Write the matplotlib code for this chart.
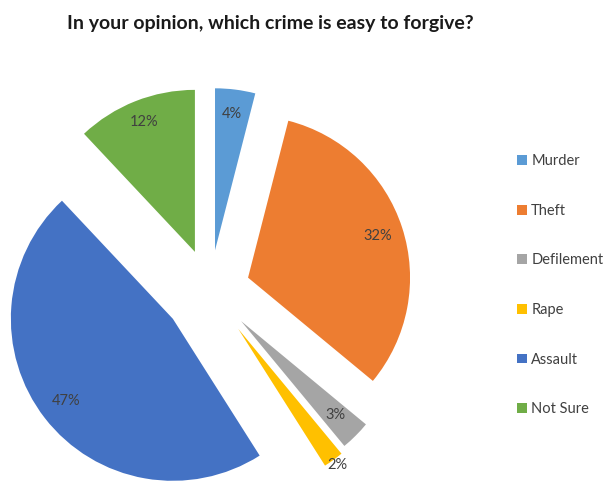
import numpy as np
import matplotlib
matplotlib.use("Agg")
import matplotlib.pyplot as plt

plt.rcParams["font.family"] = ["Lato", "DejaVu Sans"]

TITLE = "In your opinion, which crime is easy to forgive?"
categories = ["Murder", "Theft", "Defilement", "Rape", "Assault", "Not Sure"]
shares = [4, 32, 3, 2, 47, 12]
colors = ["#5B9BD5", "#ED7D31", "#A5A5A5", "#FFC000", "#4472C4", "#70AD47"]

# layout in pixel units (axes span the whole figure, 1 unit = 1 px)
W, H = 605, 493
CENTER = (210, H - 290)
RADIUS = 162
EXPLODE = [40, 40, 44, 48, 47, 41]
LABEL_DIST = [0.85, 0.84, 0.82, 1.04, 0.83, 0.86]

fig = plt.figure(figsize=(W / 100, H / 100), dpi=100)
ax = fig.add_axes([0, 0, 1, 1])

wedges, _ = ax.pie(shares, colors=colors, explode=EXPLODE, center=CENTER,
                   radius=RADIUS, startangle=90, counterclock=False,
                   labels=None, wedgeprops={"linewidth": 0})

for w, v, d in zip(wedges, shares, LABEL_DIST):
    mid = np.deg2rad((w.theta1 + w.theta2) / 2)
    cx, cy = w.center
    ax.text(cx + d * w.r * np.cos(mid), cy + d * w.r * np.sin(mid), f"{v}%",
            ha="center", va="center", fontsize=10.5, color="#404040")

ax.set_xlim(0, W)
ax.set_ylim(0, H)
ax.set_aspect("auto")
ax.axis("off")

fig.text(270 / W, 1 - 23 / H, TITLE, ha="center", va="center",
         fontsize=14, fontweight="bold", color="#1a1a1a")

leg = ax.legend(wedges, categories, loc="upper left",
                bbox_to_anchor=(510 / W, 1 - 147 / H), frameon=False,
                fontsize=10.5, handlelength=0.65, handleheight=0.65,
                handletextpad=0.3, labelspacing=2.44, borderpad=0)
for t in leg.get_texts():
    t.set_color("#404040")

fig.savefig("out.png", dpi=100)
